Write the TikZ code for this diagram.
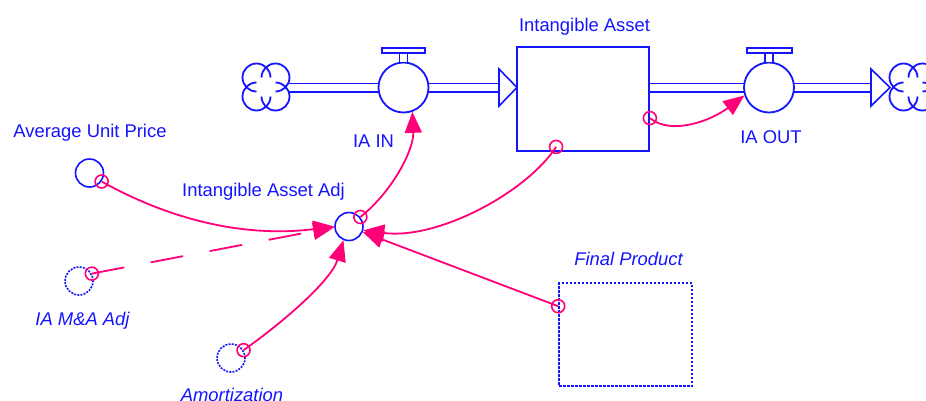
\documentclass[tikz,border=0pt]{standalone}
\usepackage{fontspec}
\setmainfont{Liberation Sans}
\usetikzlibrary{arrows.meta,calc}

\definecolor{sdblue}{RGB}{20,20,255}
\definecolor{sdlink}{RGB}{255,0,120}

\tikzset{
  every node/.style={font=\fontsize{18.4}{22}\selectfont, text=sdblue},
  lbl/.style={anchor=base, inner sep=0pt},
  ilbl/.style={lbl, font=\fontsize{18.4}{22}\selectfont\itshape},
  stockbox/.style={draw=sdblue, line width=1.8pt, fill=white, inner sep=0pt,
    minimum width=132pt, minimum height=104pt},
  shadowbox/.style={draw=sdblue, line width=1.6pt, dash pattern=on 2.5pt off 1.5pt,
    inner sep=0pt, minimum width=133pt, minimum height=103pt},
  valve/.style={circle, draw=sdblue, line width=1.8pt, fill=white, inner sep=0pt,
    minimum size=50pt},
  aux/.style={circle, draw=sdblue, line width=1.6pt, fill=white, inner sep=0pt,
    minimum size=28pt},
  shadowaux/.style={aux, dash pattern=on 2pt off 1.2pt},
  pipe/.style={draw=sdblue, line width=1.6pt, double=white, double distance=6.8pt},
  part/.style={draw=sdblue, line width=1.6pt, fill=white},
  link/.style={draw=sdlink, line width=1.8pt, -{Triangle[length=21pt,width=17pt]}},
  mk/.style={draw=sdlink, line width=1.6pt},
  % cloud: four overlapping lobes, each a three-quarter arc (angles taken on the page)
  pics/sdcloud/.style={code={
    \draw[sdblue, line width=1.8pt]
      (-9.5,-9.5) ++(0:14pt) arc[start angle=0, end angle=270, radius=14pt]
      (-9.5,9.5) ++(90:14pt) arc[start angle=90, end angle=360, radius=14pt]
      (9.5,9.5) ++(180:14pt) arc[start angle=180, end angle=450, radius=14pt]
      (9.5,-9.5) ++(270:14pt) arc[start angle=270, end angle=540, radius=14pt];
  }}
}

\begin{document}
\begin{tikzpicture}[x=1pt, y=-1pt]
\useasboundingbox (0,0) rectangle (926,400);

% flow pipes
\draw[pipe] (289,87.5) -- (499,87.5);
\draw[pipe] (649,87.5) -- (871,87.5);
\draw[part] (499,69) -- (517,87.5) -- (499,106) -- cycle;
\draw[part] (871,69) -- (890,87.5) -- (871,106) -- cycle;

% source and sink
\pic at (266,87) {sdcloud};
\pic at (913,87) {sdcloud};

% stock
\node[stockbox] (stock) at (583,99) {};
\node[lbl] (stocklbl) at (584.5,31) {Intangible Asset};

% valves with handles
\node[valve] (iain) at (403.5,87.5) {};
\draw[part] (382,48) rectangle (425,53);
\draw[part] (399.5,53) rectangle (407.5,62.5);
\node[lbl] (iainlbl) at (373.5,147) {IA IN};

\node[valve] (iaout) at (769,87.5) {};
\draw[part] (747,48) rectangle (792,53);
\draw[part] (765,53) rectangle (773,62.5);
\node[lbl] (iaoutlbl) at (771,143) {IA OUT};

% auxiliaries
\node[aux] (aup) at (89.5,173) {};
\node[lbl] (auplbl) at (90,137) {Average Unit Price};

\node[aux] (adj) at (349,226.5) {};
\node[lbl] (adjlbl) at (263.5,196) {Intangible Asset Adj};

\node[shadowaux] (mna) at (79,281) {};
\node[ilbl] (mnalbl) at (82.5,325) {IA M\&A Adj};

\node[shadowaux] (amor) at (231,358) {};
\node[ilbl] (amorlbl) at (232,401) {Amortization};

\node[shadowbox] (fp) at (625.5,334.5) {};
\node[ilbl] (fplbl) at (628.5,265) {Final Product};

% causal links
\draw[link] (aup.-35) .. controls (185,228) and (260,236) .. (adj.180);
\draw[link, dash pattern=on 33pt off 27pt] (mna.30) -- (adj.183);
\draw[link] (amor.32) .. controls (282,323) and (331,281) .. (adj.-112);
\draw[link] (adj.40) .. controls (392,192) and (414,150) .. (iain.-70);
\coordinate (stockbot) at ($(stock.south west)+(40,-5)$);
\draw[link] (stockbot) .. controls (527,192) and (438,240) .. (adj.-15);
\coordinate (fpleft) at ($(fp.north west)+(0,24)$);
\draw[link] (fpleft) -- (adj.-22);
\coordinate (stockright) at ($(stock.north east)+(0,72)$);
\draw[link] (stockright) .. controls (672,136) and (712,120) .. (iaout.198);

% link origins
\draw[mk] (aup.-35) circle[radius=6.5];
\draw[mk] (mna.30) circle[radius=6.5];
\draw[mk] (amor.32) circle[radius=6.5];
\draw[mk] (adj.40) circle[radius=6.5];
\draw[mk] (stockbot) circle[radius=6.5];
\draw[mk] (fpleft) circle[radius=6.5];
\draw[mk] (stockright) circle[radius=6.5];
\end{tikzpicture}
\end{document}
